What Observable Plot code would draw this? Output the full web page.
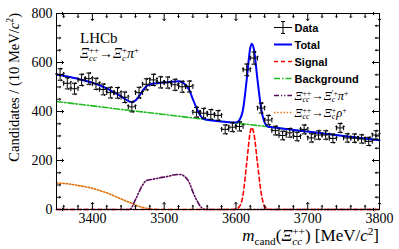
<!DOCTYPE html>
<html><head><meta charset="utf-8">
<script src="https://cdn.jsdelivr.net/npm/d3@7"></script>
<script src="https://cdn.jsdelivr.net/npm/@observablehq/plot@0.6"></script>
<style>body{margin:0;background:#fff}#chart{width:399px;height:249px}</style>
</head><body><div id="chart"></div><script>
// Data histogram (10 MeV bins)
const dataMass = [3355,3365,3375,3385,3395,3405,3415,3425,3435,3445,3455,3465,3475,3485,3495,3505,3515,3525,3535,3545,3555,3565,3575,3585,3595,3605,3615,3625,3635,3645,3655,3665,3675,3685,3695,3705,3715,3725,3735,3745,3755,3765,3775,3785,3795];
const dataCounts = [551,515,493,529,534,513,490,477,476,458,419,477,511,529,519,518,509,501,502,397,393,388,384,327,336,339,570,618,414,365,322,302,313,298,327,292,304,304,290,333,292,291,288,278,304];
// Total fit
const totalMass = [3350,3360,3370,3380,3390,3400,3410,3420,3430,3440,3445,3450,3455,3460,3465,3470,3475,3480,3490,3500,3510,3520,3525,3530,3535,3540,3545,3550,3555,3560,3570,3580,3590,3600,3605,3610,3615,3620,3622,3625,3630,3635,3640,3645,3650,3700,3750,3800];
const totalVals = [551,546,540,533,526,518,507,494,478,462,452,443,438,445,462,485,502,510,516,518,521,523,519,508,488,450,415,385,370,366,362,359,356,355,366,410,530,660,677,655,530,415,355,338,336,318,300,283];
// Signal
const sigMass = [3350,3595,3600,3605,3610,3615,3620,3622,3625,3630,3635,3640,3645,3650,3800];
const sigVals = [0,0,2,12,62,190,318,335,310,190,70,12,2,0,0];
// Background
const bkgMass = [3350,3400,3450,3500,3550,3600,3650,3700,3750,3800];
const bkgVals = [441,423,405,388,370,353,336,318,300,283];
// Xi_cc -> Xi_c' pi
const piMass = [3350,3452,3460,3470,3475,3485,3495,3505,3515,3522,3528,3535,3540,3545,3550,3555,3560,3800];
const piVals = [0,0,40,100,118,124,130,135,142,143,136,110,72,40,15,2,0,0];
// Xi_cc -> Xi_c rho
const rhoMass = [3350,3365,3380,3395,3410,3425,3440,3455,3465,3475,3485,3495,3800];
const rhoVals = [108,105,98,90,78,62,43,25,13,5,1,0,0];
// ticks
const xMajor = [3400,3500,3600,3700,3800];
const xMinor = [3360,3380,3420,3440,3460,3480,3520,3540,3560,3580,3620,3640,3660,3680,3720,3740,3760,3780];
const yMajor = [0,200,400,600,800];
const yMinor = [50,100,150,250,300,350,450,500,550,650,700,750];

const pts = dataMass.map((m,i)=>({m, n: dataCounts[i], e: Math.sqrt(dataCounts[i])}));
const toRows = (ms, vs) => ms.map((m,i)=>({m, v: vs[i]}));

const serif = "'Liberation Serif', 'Times New Roman', serif";
const sans = "'Liberation Sans', Arial, sans-serif";

const plot = Plot.plot({
  width: 399, height: 249,
  marginLeft: 56, marginRight: 20, marginTop: 13, marginBottom: 40,
  style: {fontFamily: serif, fontSize: "14px", background: "white", color: "black"},
  x: {domain: [3350, 3800]},
  y: {domain: [0, 800]},
  marks: [
    Plot.line(toRows(rhoMass, rhoVals), {x: "m", y: "v", stroke: "#e0700a", strokeWidth: 1.6, strokeDasharray: "1.4,1.8", curve: "monotone-x"}),
    Plot.line(toRows(piMass, piVals), {x: "m", y: "v", stroke: "#5a0a5a", strokeWidth: 1.6, strokeDasharray: "5,2,1.2,2,1.2,2", curve: "monotone-x"}),
    Plot.line(toRows(bkgMass, bkgVals), {x: "m", y: "v", stroke: "#22bb22", strokeWidth: 1.6, strokeDasharray: "6,2,1.5,2"}),
    Plot.line(toRows(sigMass, sigVals), {x: "m", y: "v", stroke: "#ff0000", strokeWidth: 1.6, strokeDasharray: "4,3", curve: "monotone-x"}),
    Plot.line(toRows(totalMass, totalVals), {x: "m", y: "v", stroke: "#0000ff", strokeWidth: 2, curve: "monotone-x"}),
    // data error bars
    Plot.ruleX(pts, {x: "m", y1: d => d.n - d.e, y2: d => d.n + d.e, stroke: "black", strokeWidth: 1}),
    Plot.ruleY(pts, {y: "n", x1: d => d.m - 5, x2: d => d.m + 5, stroke: "black", strokeWidth: 1}),
    Plot.vector(pts, {x: "m", y: d => d.n - d.e, length: 4, rotate: 90, anchor: "middle", stroke: "black", strokeWidth: 1}),
    Plot.vector(pts, {x: "m", y: d => d.n + d.e, length: 4, rotate: 90, anchor: "middle", stroke: "black", strokeWidth: 1}),
    Plot.vector(pts, {x: d => d.m - 5, y: "n", length: 4, rotate: 0, anchor: "middle", stroke: "black", strokeWidth: 1}),
    Plot.vector(pts, {x: d => d.m + 5, y: "n", length: 4, rotate: 0, anchor: "middle", stroke: "black", strokeWidth: 1}),
    // inward ticks
    Plot.vector(xMajor, {x: d => d, y: 0, length: 7, rotate: 0, anchor: "start", stroke: "black", strokeWidth: 1}),
    Plot.vector(xMinor, {x: d => d, y: 0, length: 4, rotate: 0, anchor: "start", stroke: "black", strokeWidth: 1}),
    Plot.vector(xMajor, {x: d => d, y: 800, length: 7, rotate: 180, anchor: "start", stroke: "black", strokeWidth: 1}),
    Plot.vector(xMinor, {x: d => d, y: 800, length: 4, rotate: 180, anchor: "start", stroke: "black", strokeWidth: 1}),
    Plot.vector(yMajor, {y: d => d, x: 3350, length: 7, rotate: 90, anchor: "start", stroke: "black", strokeWidth: 1}),
    Plot.vector(yMinor, {y: d => d, x: 3350, length: 4, rotate: 90, anchor: "start", stroke: "black", strokeWidth: 1}),
    Plot.vector(yMajor, {y: d => d, x: 3800, length: 7, rotate: -90, anchor: "start", stroke: "black", strokeWidth: 1}),
    Plot.vector(yMinor, {y: d => d, x: 3800, length: 4, rotate: -90, anchor: "start", stroke: "black", strokeWidth: 1}),
    Plot.axisX({ticks: xMajor, tickSize: 0, tickPadding: 4, tickFormat: d => String(d), label: null, fontSize: 14}),
    Plot.axisY({ticks: yMajor, tickSize: 0, tickPadding: 4, tickFormat: d => String(d), label: null, fontSize: 14}),
    Plot.frame({stroke: "black", strokeWidth: 1})
  ]
});
document.getElementById("chart").appendChild(plot);

const svg = d3.select(plot);

function rich(textSel, parts, size, subOff = 0.3, supOff = 0.4, ratio = 0.68) {
  let cur = 0, lastLen = 0, pend = 0;
  parts.forEach(p => {
    const s = p.s || "b";
    const fs = s === "b" ? size : size * ratio;
    const off = s === "sub" ? size * subOff : s === "sup" ? -size * supOff : 0;
    const ts = textSel.append("tspan").text(p.t)
      .attr("font-size", fs)
      .attr("font-style", p.i ? "italic" : "normal")
      .attr("dy", off - cur);
    let dx = pend;
    pend = 0;
    if (p.stack) dx -= lastLen;
    if (dx) ts.attr("dx", dx);
    cur = off;
    const len = ts.node().getComputedTextLength();
    if (p.stack && len < lastLen) pend = lastLen - len;
    lastLen = len;
  });
}

const ann = svg.append("g").attr("fill", "black").attr("font-family", serif).attr("text-anchor", "start");
ann.append("text").attr("x", 80).attr("y", 42.5).attr("font-size", 15).text("LHCb");
rich(ann.append("text").attr("x", 80).attr("y", 57.5), [
  {t: "Ξ", i: true}, {t: "cc", i: true, s: "sub"}, {t: "++", s: "sup", stack: true},
  {t: "→"}, {t: "Ξ", i: true}, {t: "c", i: true, s: "sub"}, {t: "+", s: "sup", stack: true},
  {t: "π", i: true}, {t: "+", s: "sup"}
], 14, 0.26, 0.34, 0.64);

// axis titles
rich(ann.append("text").attr("text-anchor", "end").attr("transform", "translate(19,13) rotate(-90)"), [
  {t: "Candidates / (10 MeV/"}, {t: "c", i: true}, {t: "2", s: "sup"}, {t: ")"}
], 14.5);
rich(ann.append("text").attr("text-anchor", "end").attr("x", 379).attr("y", 241), [
  {t: "m", i: true}, {t: "cand", s: "sub"}, {t: "("}, {t: "Ξ", i: true}, {t: "cc", i: true, s: "sub"}, {t: "++", s: "sup", stack: true},
  {t: ") [MeV/"}, {t: "c", i: true}, {t: "2", s: "sup"}, {t: "]"}
], 17, 0.26, 0.36, 0.66);

// legend
const lg = svg.append("g").attr("text-anchor", "start");
const rows = [
  {type: "data", label: "Data"},
  {type: "line", color: "#0000ff", dash: null, w: 2, label: "Total"},
  {type: "line", color: "#ff0000", dash: "4,3", w: 1.6, label: "Signal"},
  {type: "line", color: "#22bb22", dash: "6,2,1.5,2", w: 1.6, label: "Background"},
  {type: "line", color: "#5a0a5a", dash: "5,2,1.2,2,1.2,2", w: 1.6, rich: [
    {t: "Ξ", i: true}, {t: "cc", i: true, s: "sub"}, {t: "++", s: "sup", stack: true},
    {t: "→"}, {t: "Ξ", i: true}, {t: "c", i: true, s: "sub"}, {t: "′+", s: "sup", stack: true},
    {t: "π", i: true}, {t: "+", s: "sup"}]},
  {type: "line", color: "#e0700a", dash: "1.4,1.8", w: 1.6, rich: [
    {t: "Ξ", i: true}, {t: "cc", i: true, s: "sub"}, {t: "++", s: "sup", stack: true},
    {t: "→"}, {t: "Ξ", i: true}, {t: "c", i: true, s: "sub"}, {t: "+", s: "sup", stack: true},
    {t: "ρ", i: true}, {t: "+", s: "sup"}]}
];
rows.forEach((r, i) => {
  const base = 31.5 + i * 17;
  const cy = base - 4;
  if (r.type === "data") {
    lg.append("line").attr("x1", 274).attr("x2", 292).attr("y1", cy).attr("y2", cy).attr("stroke", "black");
    lg.append("line").attr("x1", 283).attr("x2", 283).attr("y1", cy - 6).attr("y2", cy + 6).attr("stroke", "black");
    lg.append("line").attr("x1", 281).attr("x2", 285).attr("y1", cy - 6).attr("y2", cy - 6).attr("stroke", "black");
    lg.append("line").attr("x1", 281).attr("x2", 285).attr("y1", cy + 6).attr("y2", cy + 6).attr("stroke", "black");
  } else {
    lg.append("line").attr("x1", 274).attr("x2", 292).attr("y1", cy).attr("y2", cy)
      .attr("stroke", r.color).attr("stroke-width", r.w).attr("stroke-dasharray", r.dash);
  }
  if (r.rich) {
    rich(lg.append("text").attr("x", 294.5).attr("y", base).attr("font-family", serif).attr("fill", "black"), r.rich, 12.5, 0.22, 0.3, 0.62);
  } else {
    lg.append("text").attr("x", 294.5).attr("y", base).attr("font-family", sans).attr("font-weight", "bold")
      .attr("font-size", 11).attr("fill", "black").text(r.label);
  }
});
</script></body></html>
